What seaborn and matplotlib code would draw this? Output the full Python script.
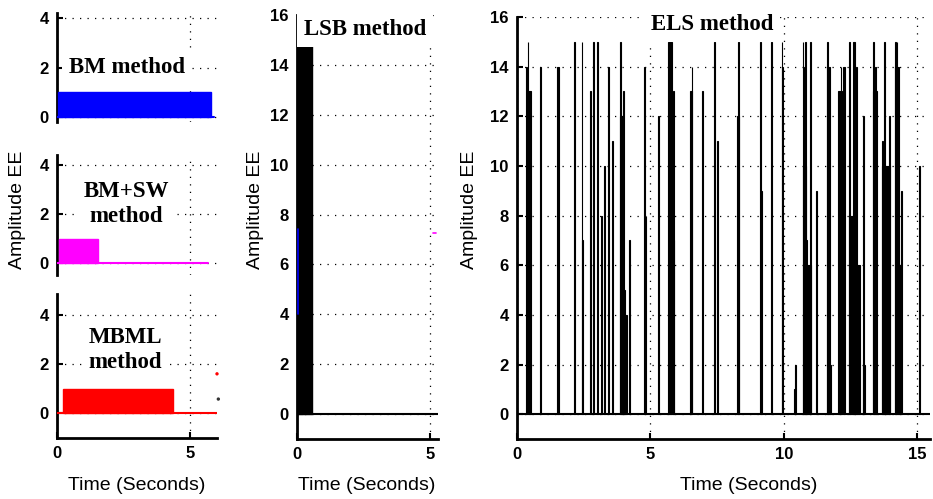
import matplotlib
matplotlib.use("Agg")
import matplotlib.pyplot as plt
import seaborn as sns

# ---------------- data ----------------
# left column: single rectangular pulse per method (start, end, height) + zero line end
bm_start, bm_end, bm_height, bm_line_end = 0.05, 5.79, 1.0, 5.88
sw_start, sw_end, sw_height, sw_line_end = 0.09, 1.53, 1.0, 5.65
mbml_start, mbml_end, mbml_height, mbml_line_end = 0.24, 4.35, 1.0, 6.0
mbml_stray_x = [6.0, 6.05]
mbml_stray_y = [1.6, 0.57]

# LSB method
lsb_start, lsb_end, lsb_height, lsb_line_end = 0.0, 0.55, 15.0, 5.3
lsb_blue_x, lsb_blue_y = [0.03, 0.03], [4.0, 7.4]
lsb_mag_x, lsb_mag_y = [5.12, 5.22], [7.25, 7.25]

# ELS method: spikes (start time, width, height)
els_start = [0.34, 0.40, 0.40, 0.86, 1.50, 2.15, 2.42, 2.45, 2.73, 2.86,
             3.01, 3.15, 3.27, 3.42, 3.57, 3.86, 3.86, 3.98, 3.98, 4.00,
             4.19, 4.77, 4.82, 5.27, 5.67, 5.86, 5.84, 6.48, 6.54, 6.94,
             7.39, 7.49, 8.23, 8.27, 9.10, 9.14, 9.51, 9.91, 9.91, 10.37,
             10.42, 10.70, 10.78, 10.74, 10.70, 10.84, 10.84, 10.97, 11.19, 11.62,
             11.62, 11.74, 12.01, 12.12, 12.21, 12.26, 12.43, 12.59, 12.63, 12.43,
             12.70, 12.72, 12.97, 12.97, 13.35, 13.40, 13.35, 13.68, 13.75, 13.93,
             13.68, 14.16, 14.22, 14.16, 14.30, 14.40, 15.06]
els_width = [0.03, 0.03, 0.11, 0.03, 0.06, 0.03, 0.03, 0.03, 0.03, 0.03,
             0.03, 0.03, 0.03, 0.03, 0.03, 0.03, 0.12, 0.03, 0.13, 0.03,
             0.03, 0.03, 0.03, 0.04, 0.13, 0.03, 0.03, 0.09, 0.03, 0.03,
             0.03, 0.03, 0.08, 0.03, 0.03, 0.03, 0.03, 0.03, 0.07, 0.03,
             0.03, 0.03, 0.03, 0.03, 0.14, 0.03, 0.16, 0.03, 0.03, 0.03,
             0.12, 0.03, 0.17, 0.03, 0.03, 0.03, 0.03, 0.03, 0.03, 0.23,
             0.03, 0.13, 0.03, 0.05, 0.03, 0.03, 0.12, 0.03, 0.03, 0.03,
             0.29, 0.03, 0.03, 0.14, 0.10, 0.03, 0.03]
els_height = [14, 15, 13, 14, 14, 15, 15, 7, 13, 15,
              15, 8, 10, 14, 11, 15, 12, 13, 4, 5,
              7, 14, 8, 12, 15, 13, 7, 13, 14, 13,
              15, 11, 12, 15, 15, 9, 15, 15, 14, 1,
              2, 15, 15, 14, 10, 7, 6, 15, 9, 15,
              14, 2, 13, 14, 14, 14, 15, 15, 15, 8,
              14, 6, 12, 2, 15, 14, 13, 11, 15, 12,
              10, 15, 15, 14, 6, 9, 10]
els_line_end = 15.47

left_yticks = [0, 2, 4]
tall_yticks = [0, 2, 4, 6, 8, 10, 12, 14, 16]

# ---------------- style ----------------
sns.set_style("white")
plt.rcParams['font.family'] = ['Liberation Sans', 'DejaVu Sans']
plt.rcParams['text.color'] = 'black'
plt.rcParams['axes.labelcolor'] = 'black'
plt.rcParams['xtick.color'] = 'black'
plt.rcParams['ytick.color'] = 'black'

W, H = 933, 499
fig = plt.figure(figsize=(W / 100, H / 100), dpi=100)


def pos(x0, x1, y0, y1):
    return [x0 / W, 1 - y1 / H, (x1 - x0) / W, (y1 - y0) / H]


tick_font = dict(family='Liberation Sans', weight='bold', size=12, color='black')
method_font = dict(family='Liberation Serif', weight='bold', size=16.5, color='black')
label_font = dict(family='Liberation Sans', size=14, color='black')
GRID = dict(linestyle=(0, (1, 5)), color='black', linewidth=0.9)


def style_axis(ax, xlim, ylim, yticks, xticks, show_bottom):
    ax.set_xlim(*xlim)
    ax.set_ylim(*ylim)
    ax.set_yticks(yticks)
    ax.set_xticks(xticks)
    ax.grid(True, **GRID)
    ax.set_axisbelow(True)
    for s in ['top', 'right']:
        ax.spines[s].set_visible(False)
    ax.spines['left'].set_color('black')
    ax.spines['left'].set_linewidth(2)
    ax.spines['bottom'].set_color('black')
    ax.spines['bottom'].set_linewidth(2)
    ax.spines['bottom'].set_visible(show_bottom)
    ax.tick_params(axis='both', direction='in', length=4, width=1.5,
                   color='black', pad=6, left=True, bottom=show_bottom)
    ax.set_yticklabels([str(t) for t in yticks], fontdict=tick_font)
    if show_bottom:
        ax.set_xticklabels([str(t) for t in xticks], fontdict=tick_font)
    else:
        ax.set_xticklabels([])
    ax.set_xlabel('')
    ax.set_ylabel('')


def text_box(ax, x, y, s):
    ax.text(x, y, s, ha='center', va='center', fontdict=method_font,
            linespacing=1.25,
            bbox=dict(facecolor='white', edgecolor='none', pad=5), zorder=5)


# ---- left column ----
ax1 = fig.add_axes(pos(57, 217, 13, 122))
ax1.bar([bm_start], [bm_height], width=bm_end - bm_start, align='edge',
        color='#0000ff', edgecolor='#0000ff', linewidth=1, zorder=3)
sns.lineplot(x=[0, bm_line_end], y=[0, 0], color='#0000ff', linewidth=1.5, ax=ax1, zorder=3)
style_axis(ax1, (0, 6.0), (-0.2, 4.2), left_yticks, [0, 5], False)
text_box(ax1, 2.62, 2.0, 'BM method')

ax2 = fig.add_axes(pos(57, 217, 155, 275))
ax2.bar([sw_start], [sw_height], width=sw_end - sw_start, align='edge',
        color='#ff00ff', edgecolor='#ff00ff', linewidth=1, zorder=3)
sns.lineplot(x=[0, sw_line_end], y=[0, 0], color='#ff00ff', linewidth=1.5, ax=ax2, zorder=3)
style_axis(ax2, (0, 6.0), (-0.49, 4.41), left_yticks, [0, 5], False)
text_box(ax2, 2.6, 2.4, 'BM+SW\nmethod')

ax3 = fig.add_axes(pos(57, 217, 294, 438))
ax3.bar([mbml_start], [mbml_height], width=mbml_end - mbml_start, align='edge',
        color='#ff0000', edgecolor='#ff0000', linewidth=1, zorder=3)
sns.lineplot(x=[0, mbml_line_end], y=[0, 0], color='#ff0000', linewidth=1.5, ax=ax3, zorder=3)
ax3.scatter(mbml_stray_x, mbml_stray_y, s=2, c=['#ff0000', '#333333'], clip_on=False, zorder=3)
style_axis(ax3, (0, 6.0), (-1.02, 4.86), left_yticks, [0, 5], True)
text_box(ax3, 2.56, 2.57, 'MBML\nmethod')

# ---- LSB ----
ax4 = fig.add_axes(pos(297, 438, 15, 439))
ax4.bar([lsb_start], [lsb_height], width=lsb_end - lsb_start, align='edge',
        color='black', edgecolor='black', linewidth=1, zorder=3)
sns.lineplot(x=[0, lsb_line_end], y=[0, 0], color='black', linewidth=1.5, ax=ax4, zorder=3)
ax4.plot(lsb_blue_x, lsb_blue_y, color='#0000ff', linewidth=1.2, zorder=4)
ax4.plot(lsb_mag_x, lsb_mag_y, color='#ff00ff', linewidth=1.2, zorder=4, clip_on=False)
style_axis(ax4, (0, 5.3), (-1, 16), tall_yticks, [0, 5], True)
text_box(ax4, 2.56, 15.4, 'LSB method')

# ---- ELS ----
ax5 = fig.add_axes(pos(517, 930, 17, 439))
ax5.bar(els_start, els_height, width=els_width, align='edge',
        color='black', edgecolor='black', linewidth=0.8, zorder=3)
sns.lineplot(x=[0, els_line_end], y=[0, 0], color='black', linewidth=1.5, ax=ax5, zorder=3)
style_axis(ax5, (0, 15.47), (-1, 16), tall_yticks, [0, 5, 10, 15], True)
text_box(ax5, 7.3, 15.7, 'ELS method')

# ---- axis labels ----
for xc in [137, 367, 749]:
    fig.text(xc / W, 1 - 485 / H, 'Time (Seconds)', ha='center', va='center', **label_font)
for xc in [18, 255, 470]:
    fig.text(xc / W, 1 - 210 / H, 'Amplitude EE', ha='center', va='center',
             rotation=90, **label_font)

fig.savefig('out.png', dpi=100, facecolor='white')
